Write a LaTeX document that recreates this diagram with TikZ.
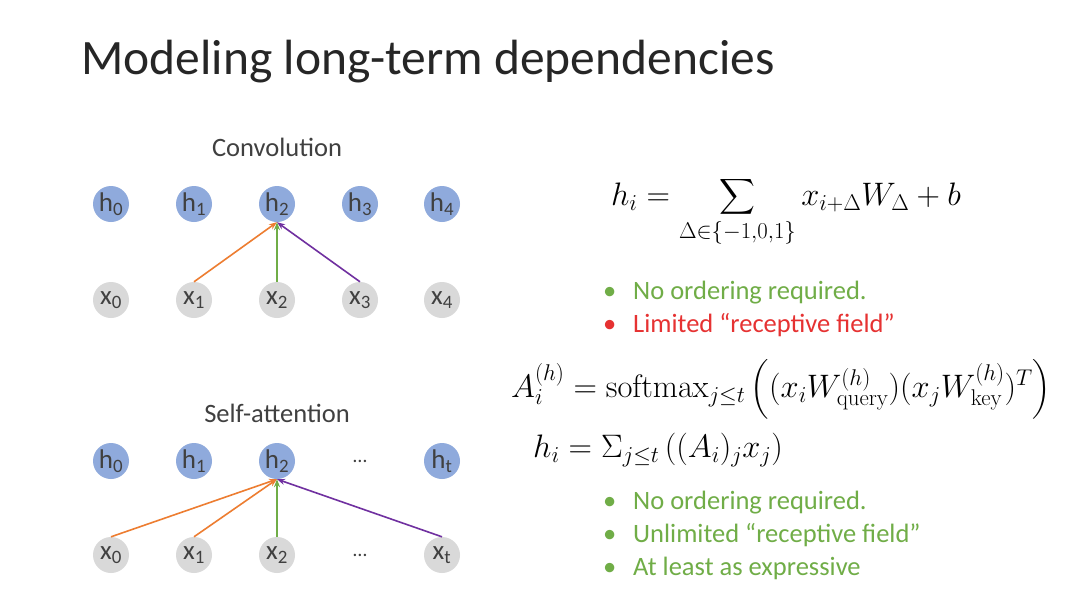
\RequirePackage{fix-cm}
\documentclass[tikz,border=0pt]{standalone}
\usepackage{amsmath}
\usepackage[no-math]{fontspec}
\setmainfont{Carlito}
\usetikzlibrary{arrows.meta}
\definecolor{hblue}{RGB}{143,170,220}
\definecolor{xgray}{RGB}{217,217,217}
\definecolor{txt}{RGB}{64,64,64}
\definecolor{corange}{RGB}{237,125,49}
\definecolor{cgreen}{RGB}{112,173,71}
\definecolor{cpurple}{RGB}{112,48,160}
\definecolor{cred}{RGB}{230,50,50}
\newcommand{\sbs}[1]{\textsubscript{#1}}
\begin{document}
\begin{tikzpicture}[x=1pt,y=-1pt,
  hnode/.style={circle,fill=hblue,minimum size=36pt,inner sep=0pt,text=txt,font=\fontsize{27}{28}\selectfont},
  xnode/.style={circle,fill=xgray,minimum size=36pt,inner sep=0pt,text=txt,font=\fontsize{27}{28}\selectfont},
  dots/.style={text=txt,font=\fontsize{20}{22}\selectfont},
  arr/.style={-{Stealth[length=8pt,width=6pt]},line width=1.6pt},
  lbl/.style={text=txt,font=\fontsize{26.5}{30}\selectfont},
  bul/.style={anchor=west,inner sep=1pt,font=\fontsize{26.5}{30}\selectfont},
  eq/.style={text=black,inner sep=0pt,font=\fontsize{32.5}{36}\selectfont}]
\useasboundingbox[fill=white] (0,0) rectangle (1080,608);
\node[anchor=west,text=black!85,font=\fontsize{49.5}{56}\selectfont] (title) at (78,62) {Modeling long-term dependencies};
% Convolution
\node[lbl] (conv) at (277,147) {Convolution};
\foreach \i/\x in {0/111,1/194,2/277,3/360,4/442}{
  \node[hnode] (ch\i) at (\x,204) {h\sbs{\i}};
  \node[xnode] (cx\i) at (\x,300) {x\sbs{\i}};
}
\draw[arr,corange] (cx1.north) -- (ch2.south);
\draw[arr,cgreen] (cx2.north) -- (ch2.south);
\draw[arr,cpurple] (cx3.north) -- (ch2.south);
% Self-attention
\node[lbl] (sa) at (277,413) {Self-attention};
\foreach \i/\x in {0/111,1/194,2/277}{
  \node[hnode] (sh\i) at (\x,461) {h\sbs{\i}};
  \node[xnode] (sx\i) at (\x,555) {x\sbs{\i}};
}
\node[hnode] (sht) at (442,461) {h\sbs{t}};
\node[xnode] (sxt) at (442,555) {x\sbs{t}};
\node[dots] (hd) at (360,461) {\ldots};
\node[dots] (xd) at (360,555) {\ldots};
\draw[arr,corange] (sx0.north) -- (sh2.south);
\draw[arr,corange] (sx1.north) -- (sh2.south);
\draw[arr,cgreen] (sx2.north) -- (sh2.south);
\draw[arr,cpurple] (sxt.north) -- (sh2.south);
% Equations
\node[eq] (eq1) at (786,212) {$\displaystyle h_i = \sum_{\Delta\in\{-1,0,1\}} x_{i+\Delta}W_\Delta + b$};
\node[bul,text=cgreen] (b1) at (602,293) {\makebox[30pt][l]{\textbullet}No ordering required.};
\node[bul,text=cred] (b2) at (602,325) {\makebox[30pt][l]{\textbullet}Limited “receptive field”};
\node[eq,anchor=west] (eq2) at (511,389) {$A_i^{(h)} = \operatorname{softmax}_{j\le t}\left((x_iW^{(h)}_{\mathrm{query}})(x_jW^{(h)}_{\mathrm{key}})^T\right)$};
\node[eq,anchor=west] (eq3) at (533,450) {$h_i = \Sigma_{j\le t}\left((A_i)_jx_j\right)$};
\node[bul,text=cgreen] (b3) at (602,503) {\makebox[30pt][l]{\textbullet}No ordering required.};
\node[bul,text=cgreen] (b4) at (602,535) {\makebox[30pt][l]{\textbullet}Unlimited “receptive field”};
\node[bul,text=cgreen] (b5) at (602,568) {\makebox[30pt][l]{\textbullet}At least as expressive};
\end{tikzpicture}
\end{document}
